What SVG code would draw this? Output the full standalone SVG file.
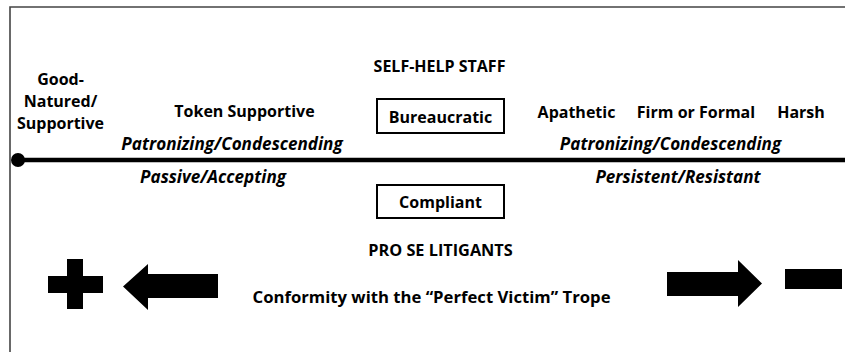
<svg xmlns="http://www.w3.org/2000/svg" width="845" height="352" viewBox="0 0 845 352">
<style>
.t{font-family:"Open Sans","Liberation Sans",sans-serif;font-weight:bold;font-size:16px;fill:#000;text-anchor:middle}
.i{font-style:italic;font-size:17.1px}
.box{fill:#fff;stroke:#000;stroke-width:2}
.shape{fill:#000}
</style>
<rect width="845" height="352" fill="#fff"/>
<path d="M10,352 V7 H845" fill="none" stroke="#444" stroke-width="1.6"/>
<g id="connectors">
<line x1="18" y1="160" x2="845" y2="160" stroke="#000" stroke-width="4.5"/>
<circle cx="18" cy="160" r="7" fill="#000"/>
</g>
<g id="title-staff"><text class="t" x="439.5" y="72">SELF-HELP STAFF</text></g>
<g id="good-natured">
<text class="t" x="60.5" y="85">Good-</text>
<text class="t" x="60.5" y="107">Natured/</text>
<text class="t" x="60.5" y="129">Supportive</text>
</g>
<g id="token"><text class="t" x="244.5" y="117">Token Supportive</text></g>
<g id="patronizing-left"><text class="t i" x="232" y="150">Patronizing/Condescending</text></g>
<g id="passive"><text class="t i" x="213" y="183">Passive/Accepting</text></g>
<g id="bureaucratic">
<rect class="box" x="377" y="99" width="127" height="34"/>
<text class="t" x="440.5" y="122.5">Bureaucratic</text>
</g>
<g id="compliant">
<rect class="box" x="377" y="185" width="127" height="33"/>
<text class="t" x="440.5" y="208">Compliant</text>
</g>
<g id="apathetic"><text class="t" x="576.5" y="118">Apathetic</text></g>
<g id="firm"><text class="t" x="696" y="118">Firm or Formal</text></g>
<g id="harsh"><text class="t" x="801" y="118">Harsh</text></g>
<g id="patronizing-right"><text class="t i" x="670.5" y="150">Patronizing/Condescending</text></g>
<g id="persistent"><text class="t i" x="678" y="183">Persistent/Resistant</text></g>
<g id="title-litigants"><text class="t" x="440.5" y="256" style="font-size:16.3px">PRO SE LITIGANTS</text></g>
<g id="conformity"><text class="t" x="431.5" y="303" style="font-size:16.7px">Conformity with the “Perfect Victim” Trope</text></g>
<g id="plus"><path class="shape" d="M67,259 H83 V276 H103 V293 H83 V309 H67 V293 H48 V276 H67 Z"/></g>
<g id="left-arrow"><path class="shape" d="M123,286.5 L148,264 V274 H218 V298 H148 V310 Z"/></g>
<g id="right-arrow"><path class="shape" d="M667,272 H738 V260 L762,283.5 L738,307 V296 H667 Z"/></g>
<g id="minus"><rect class="shape" x="785" y="269" width="57" height="20"/></g>
</svg>
